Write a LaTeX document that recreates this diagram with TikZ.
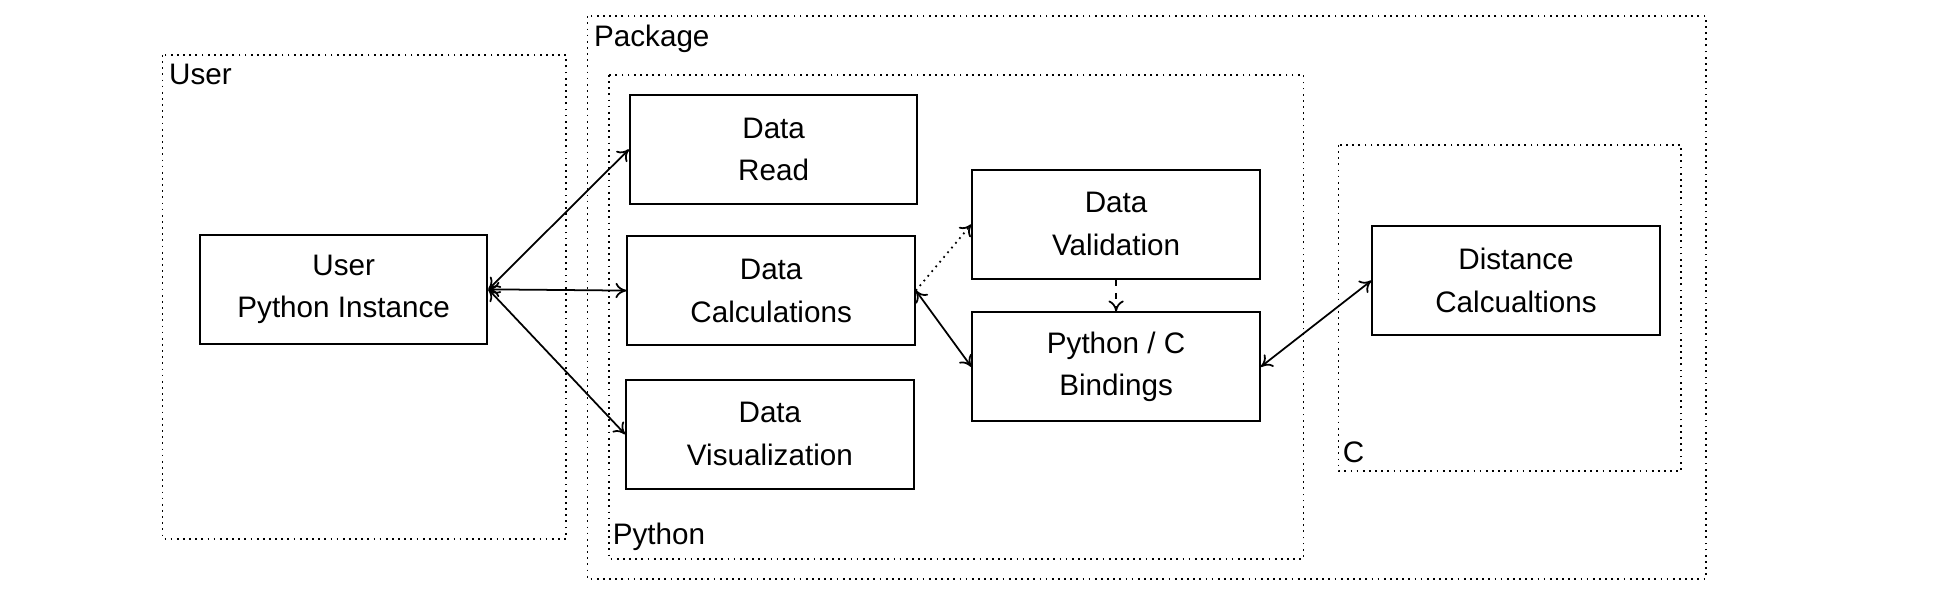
\documentclass[tikz,border=0pt]{standalone}
\usepackage{fontspec}
\setmainfont{Liberation Sans}
\usetikzlibrary{arrows.meta}
\begin{document}
\begin{tikzpicture}[x=0.02cm,y=-0.02cm,
  grp/.style={draw,dotted,line width=0.8pt},
  box/.style={draw,line width=0.9pt,align=center,font=\fontsize{13.5}{19.5}\selectfont},
  lbl/.style={font=\fontsize{13.5}{16}\selectfont,inner sep=0pt},
  arr/.style={line width=0.8pt,-{To[length=5pt,width=7pt]}},
  barr/.style={line width=0.8pt,{To[length=5pt,width=7pt]}-{To[length=5pt,width=7pt]}}]
\useasboundingbox (0,0) rectangle (1549,474);
\draw[grp] (130,44) rectangle (453,431);
\node[lbl,anchor=north west] (lu) at (135,51) {User};
\draw[grp] (470,13) rectangle (1365,463);
\node[lbl,anchor=north west] (lp) at (475,20) {Package};
\draw[grp] (487,60) rectangle (1043,447);
\node[lbl,anchor=south west] (lpy) at (490,441) {Python};
\draw[grp] (1071,116) rectangle (1345,377);
\node[lbl,anchor=south west] (lc) at (1074,371) {C};
\node[box,minimum width=4.6cm,minimum height=1.74cm] (u) at (275,231.5) {User\\Python Instance};
\node[box,minimum width=4.6cm,minimum height=1.74cm] (dr) at (619,119.5) {Data\\Read};
\node[box,minimum width=4.6cm,minimum height=1.74cm] (dc) at (617,232.5) {Data\\Calculations};
\node[box,minimum width=4.6cm,minimum height=1.74cm] (dv) at (616,347.5) {Data\\Visualization};
\node[box,minimum width=4.6cm,minimum height=1.74cm] (val) at (893,179.5) {Data\\Validation};
\node[box,minimum width=4.6cm,minimum height=1.74cm] (b) at (893,293.5) {Python / C\\Bindings};
\node[box,minimum width=4.6cm,minimum height=1.74cm] (d) at (1213,224.5) {Distance\\Calcualtions};
\draw[barr] (u.east) -- (dr.west);
\draw[barr] (u.east) -- (dc.west);
\draw[barr] (u.east) -- (dv.west);
\draw[arr,dotted] (dc.east) -- (val.west);
\draw[arr,dashed] (val.south) -- (b.north);
\draw[barr] (dc.east) -- (b.west);
\draw[barr] (b.east) -- (d.west);
\end{tikzpicture}
\end{document}
